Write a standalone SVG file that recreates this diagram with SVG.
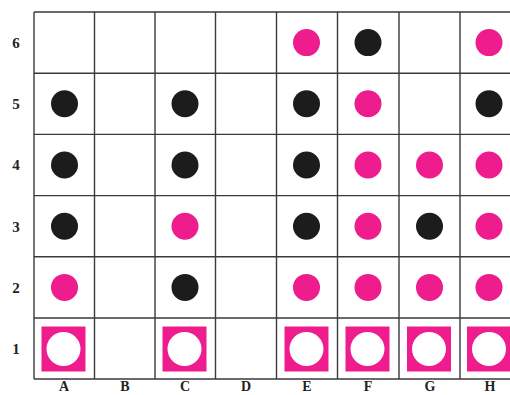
<svg xmlns="http://www.w3.org/2000/svg" width="510" height="395" viewBox="0 0 510 395">
<style>
.grid{stroke:#3a3a3a;stroke-width:1.4;fill:none}
.lbl{font-family:"Liberation Serif",serif;font-weight:bold;font-size:15px;fill:#222;text-anchor:middle}
.cl{font-size:14px}
.b{fill:#1c1c1c}
.p{fill:#ee1c8c}
.w{fill:#ffffff}
</style>
<defs>
<circle id="bk" r="13.5" class="b"/>
<circle id="pk" r="13.5" class="p"/>
<g id="sq"><rect x="-22" y="-22.5" width="44" height="45" class="p"/><circle r="17" class="w"/></g>
</defs>
<rect width="510" height="395" fill="#fff"/>
<g id="grid">
<path class="grid" d="M34,12H530M34,73.2H530M34,134.4H530M34,195.6H530M34,256.8H530M34,318H530M34,379H530M34,12V379M94.5,12V379M155,12V379M215.5,12V379M276.5,12V379M337.5,12V379M399,12V379M460,12V379"/>
</g>
<g id="rowlabels">
<text class="lbl" x="16" y="48">6</text>
<text class="lbl" x="16" y="109">5</text>
<text class="lbl" x="16" y="170.3">4</text>
<text class="lbl" x="16" y="231.5">3</text>
<text class="lbl" x="16" y="292.7">2</text>
<text class="lbl" x="16" y="354">1</text>
</g>
<g id="collabels">
<text class="lbl cl" x="64" y="391">A</text>
<text class="lbl cl" x="125" y="391">B</text>
<text class="lbl cl" x="185" y="391">C</text>
<text class="lbl cl" x="246" y="391">D</text>
<text class="lbl cl" x="307" y="391">E</text>
<text class="lbl cl" x="368" y="391">F</text>
<text class="lbl cl" x="430" y="391">G</text>
<text class="lbl cl" x="490" y="391">H</text>
</g>
<g id="row6">
<use href="#pk" x="306.5" y="42.6"/>
<use href="#bk" x="368" y="42.6"/>
<use href="#pk" x="489" y="42.6"/>
</g>
<g id="row5">
<use href="#bk" x="64.5" y="103.8"/>
<use href="#bk" x="185" y="103.8"/>
<use href="#bk" x="306.5" y="103.8"/>
<use href="#pk" x="368" y="103.8"/>
<use href="#bk" x="489" y="103.8"/>
</g>
<g id="row4">
<use href="#bk" x="64.5" y="165"/>
<use href="#bk" x="185" y="165"/>
<use href="#bk" x="306.5" y="165"/>
<use href="#pk" x="368" y="165"/>
<use href="#pk" x="429.5" y="165"/>
<use href="#pk" x="489" y="165"/>
</g>
<g id="row3">
<use href="#bk" x="64.5" y="226.2"/>
<use href="#pk" x="185" y="226.2"/>
<use href="#bk" x="306.5" y="226.2"/>
<use href="#pk" x="368" y="226.2"/>
<use href="#bk" x="429.5" y="226.2"/>
<use href="#pk" x="489" y="226.2"/>
</g>
<g id="row2">
<use href="#pk" x="64.5" y="287.4"/>
<use href="#bk" x="185" y="287.4"/>
<use href="#pk" x="306.5" y="287.4"/>
<use href="#pk" x="368" y="287.4"/>
<use href="#pk" x="429.5" y="287.4"/>
<use href="#pk" x="489" y="287.4"/>
</g>
<g id="row1">
<use href="#sq" x="63.5" y="349"/>
<use href="#sq" x="184.5" y="349"/>
<use href="#sq" x="306.5" y="349"/>
<use href="#sq" x="367.5" y="349"/>
<use href="#sq" x="429" y="349"/>
<use href="#sq" x="489" y="349"/>
</g>
</svg>
